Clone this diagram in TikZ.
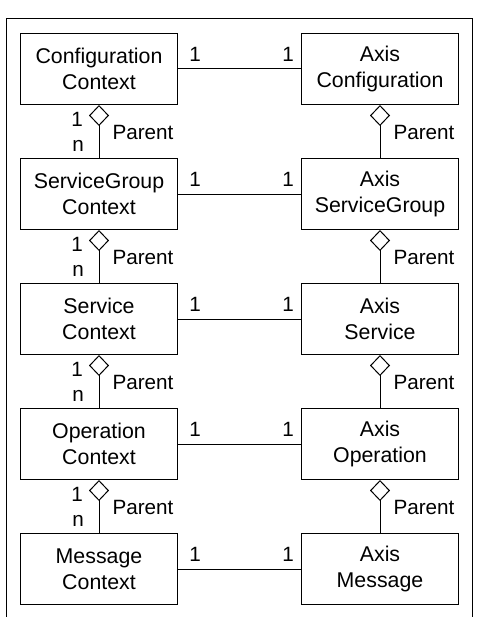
\documentclass[tikz,border=0pt]{standalone}
\usepackage{fontspec}
\setmainfont{Liberation Sans}
\usetikzlibrary{arrows.meta}

\tikzset{every picture/.style={line width=0.75pt}}
\tikzset{
  classbox/.style={draw, align=center, minimum width=117.75pt, minimum height=53.25pt, inner sep=0pt, font=\fontsize{16}{19.5}\selectfont},
  lbl/.style={inner sep=0pt, font=\fontsize{15.5}{18}\selectfont},
  aggr/.style={{Diamond[open,width=15pt,length=15.75pt,line width=0.75pt]}-},
}

\begin{document}
\begin{tikzpicture}[x=0.75pt,y=0.75pt,yscale=-1,xscale=1]
\useasboundingbox (0,0) rectangle (481,617);

%Shape: Frame (open at the bottom)
\draw (6,617) -- (6,19) -- (472,19) -- (472,617);

%Classes, left column
\node[classbox] (cfgctx) at (99,69) {Configuration\\Context};
\node[classbox] (sgctx) at (99,194) {ServiceGroup\\Context};
\node[classbox] (svcctx) at (99,319) {Service\\Context};
\node[classbox] (opctx) at (99,444) {Operation\\Context};
\node[classbox] (msgctx) at (99,569) {Message\\Context};

%Classes, right column
\node[classbox] (axcfg) at (380,69) {Axis\\Configuration};
\node[classbox] (axsg) at (380,194) {Axis\\ServiceGroup};
\node[classbox] (axsvc) at (380,319) {Axis\\Service};
\node[classbox] (axop) at (380,444) {Axis\\Operation};
\node[classbox] (axmsg) at (380,569) {Axis\\Message};

%Associations 1 -- 1
\draw (cfgctx) -- (axcfg);
\draw (sgctx) -- (axsg);
\draw (svcctx) -- (axsvc);
\draw (opctx) -- (axop);
\draw (msgctx) -- (axmsg);

%Aggregations (Parent)
\draw[aggr] (cfgctx.south) -- (sgctx.north);
\draw[aggr] (sgctx.south) -- (svcctx.north);
\draw[aggr] (svcctx.south) -- (opctx.north);
\draw[aggr] (opctx.south) -- (msgctx.north);
\draw[aggr] (axcfg.south) -- (axsg.north);
\draw[aggr] (axsg.south) -- (axsvc.north);
\draw[aggr] (axsvc.south) -- (axop.north);
\draw[aggr] (axop.south) -- (axmsg.north);

% Text Node
\node[lbl] (m1a) at (195,54) {1};
\node[lbl] (m1b) at (288,54) {1};
\node[lbl] (m2a) at (195,179) {1};
\node[lbl] (m2b) at (288,179) {1};
\node[lbl] (m3a) at (195,304) {1};
\node[lbl] (m3b) at (288,304) {1};
\node[lbl] (m4a) at (195,429) {1};
\node[lbl] (m4b) at (288,429) {1};
\node[lbl] (m5a) at (195,554) {1};
\node[lbl] (m5b) at (288,554) {1};

% Text Node
\node[lbl] (o1) at (77,119) {1};
\node[lbl] (n1) at (78,146) {n};
\node[lbl] (o2) at (77,244) {1};
\node[lbl] (n2) at (78,271) {n};
\node[lbl] (o3) at (77,369) {1};
\node[lbl] (n3) at (78,396) {n};
\node[lbl] (o4) at (77,494) {1};
\node[lbl] (n4) at (78,521) {n};

% Text Node
\node[lbl,anchor=west] (p1) at (112,132) {Parent};
\node[lbl,anchor=west] (p2) at (112,257) {Parent};
\node[lbl,anchor=west] (p3) at (112,382) {Parent};
\node[lbl,anchor=west] (p4) at (112,507) {Parent};
\node[lbl,anchor=west] (q1) at (393,132) {Parent};
\node[lbl,anchor=west] (q2) at (393,257) {Parent};
\node[lbl,anchor=west] (q3) at (393,382) {Parent};
\node[lbl,anchor=west] (q4) at (393,507) {Parent};

\end{tikzpicture}
\end{document}
